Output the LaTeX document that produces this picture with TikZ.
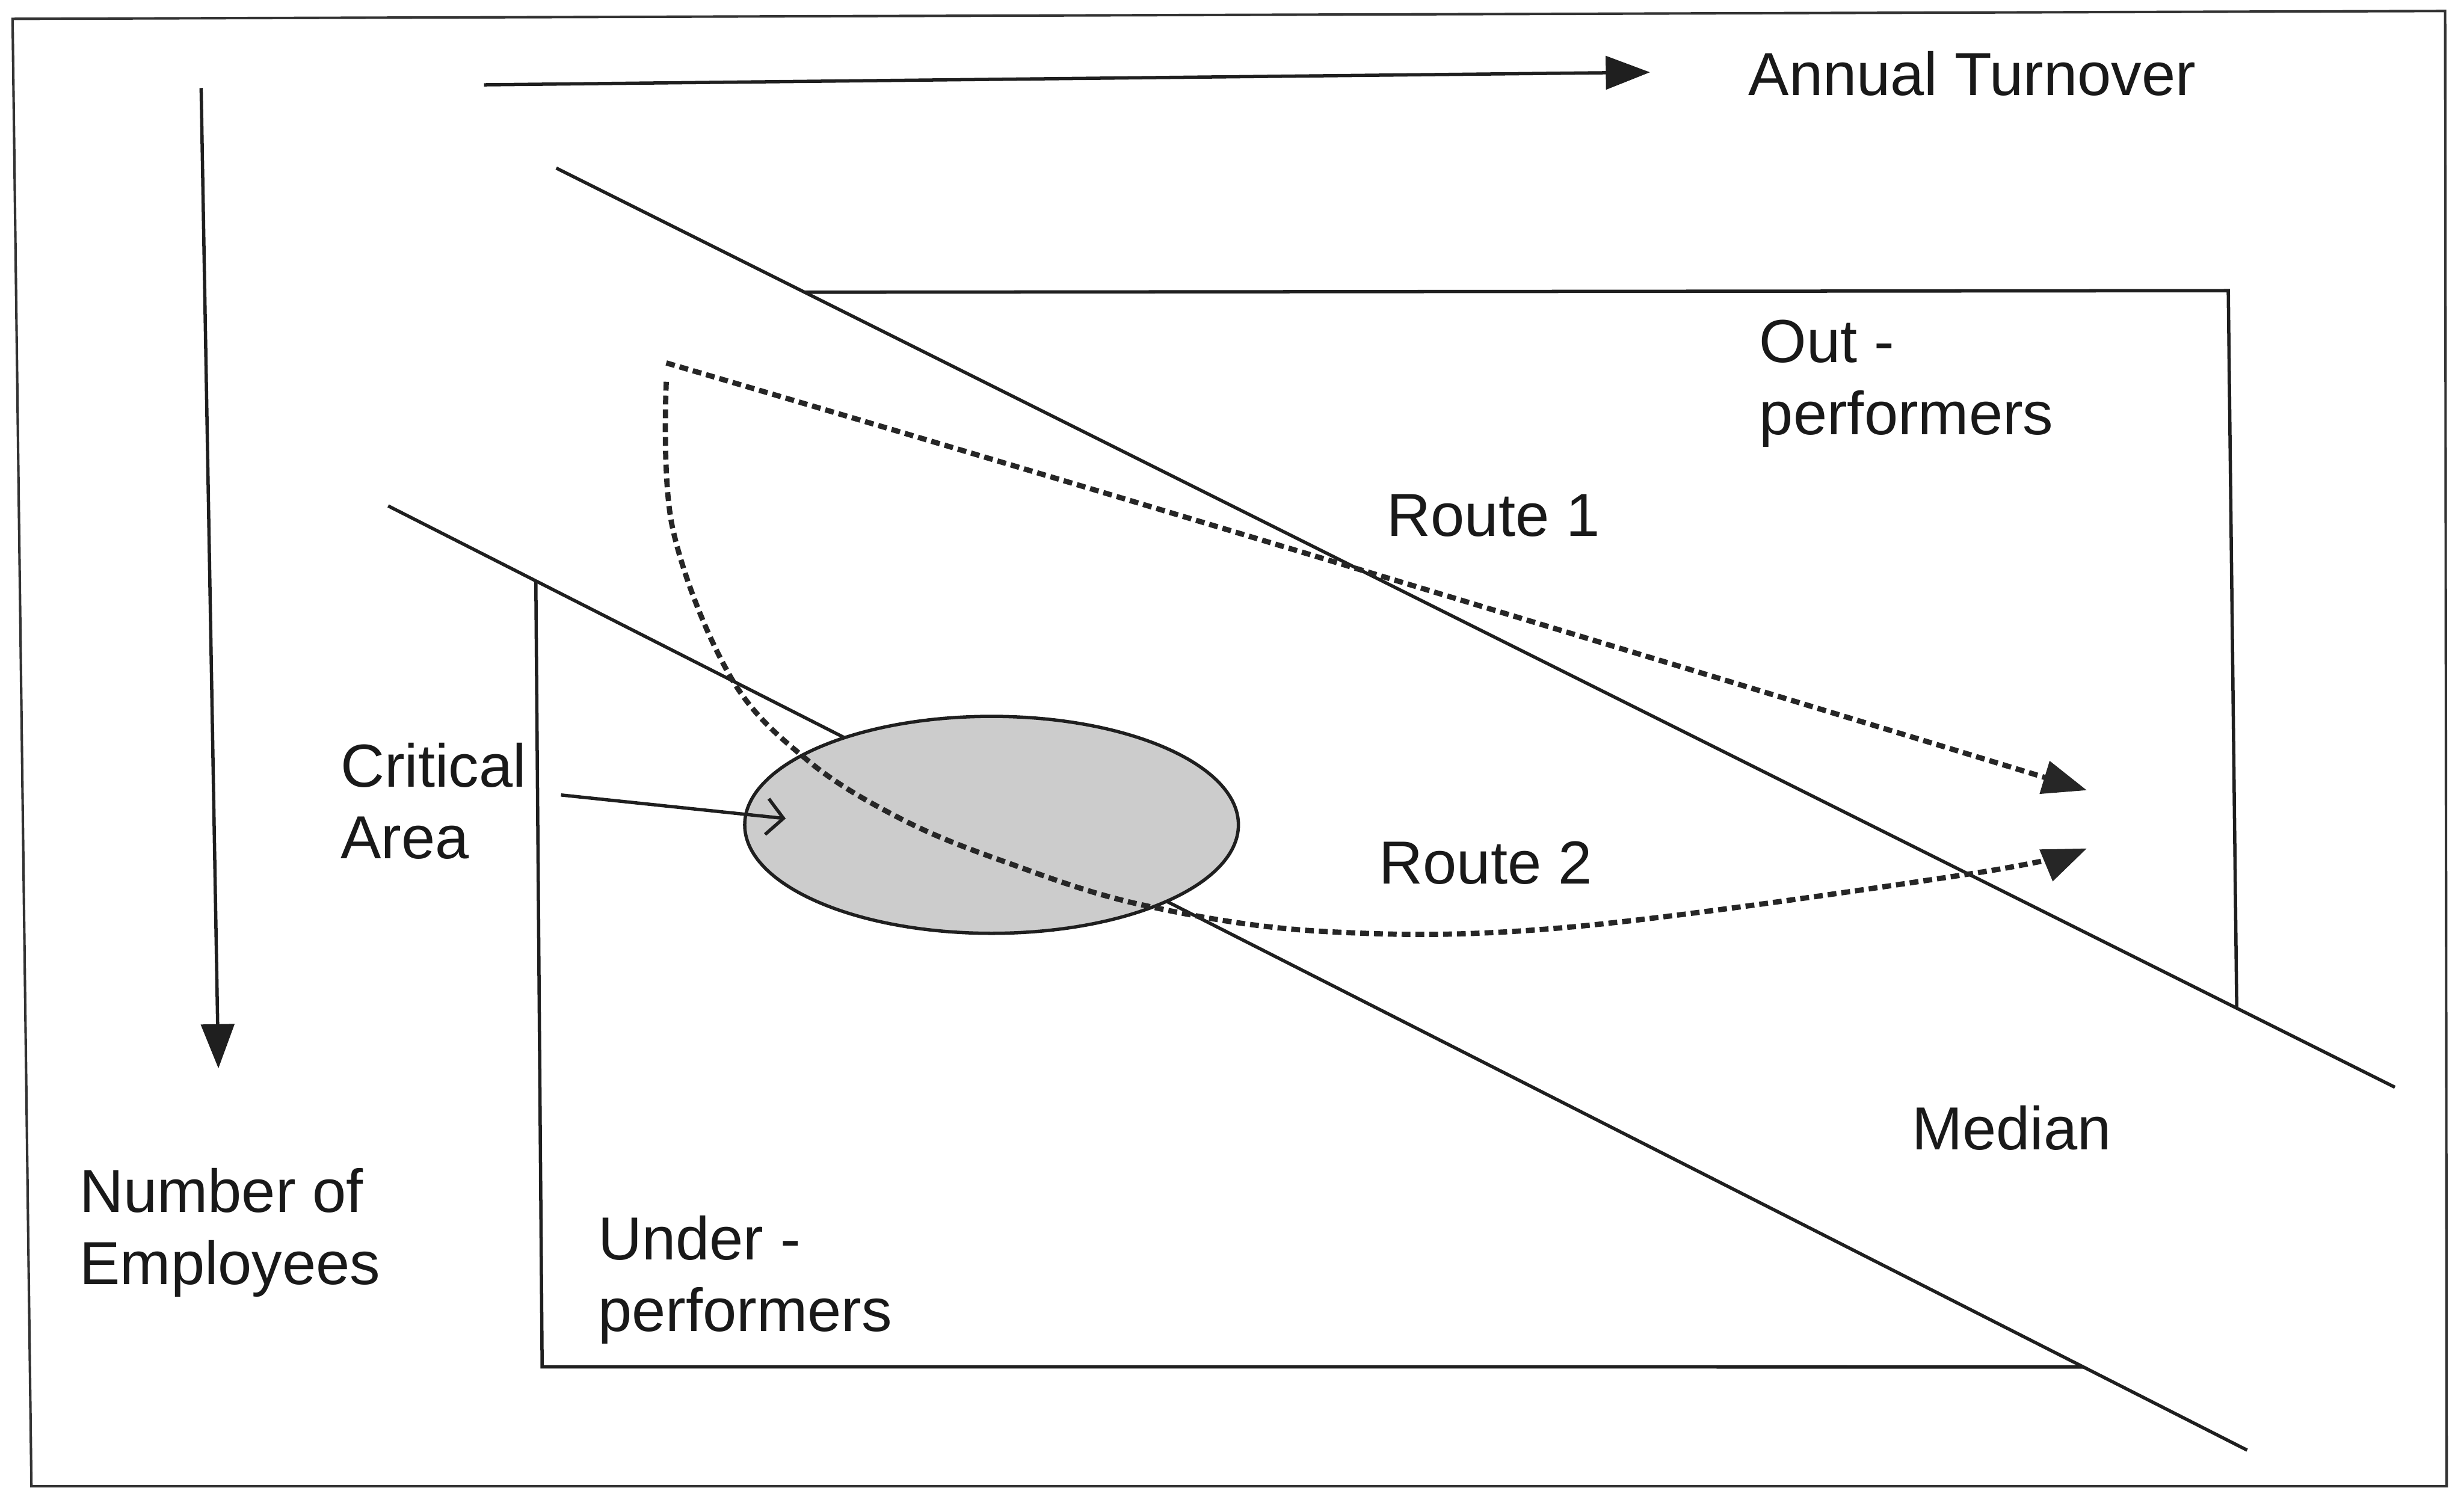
\documentclass[tikz,border=0pt]{standalone}
\usepackage{fontspec}
\setmainfont{Liberation Sans}
\usetikzlibrary{arrows.meta,shapes.geometric}
\begin{document}
\begin{tikzpicture}[x=0.01cm,y=-0.01cm,
  ink/.style={draw=black!88, line width=0.6pt},
  frameline/.style={draw=black!80, line width=0.45pt},
  route/.style={draw=black!85, line width=0.95pt, dash pattern=on 1.6pt off 0.9pt},
  solidhead/.style={-{Triangle[length=8pt,width=6pt]}},
  barbhead/.style={-{Straight Barb[length=3pt,width=6.5pt]}},
  lbl/.style={anchor=north west, inner sep=0pt, align=left,
              font=\fontsize{11}{13}\selectfont, text=black!90},
]
\useasboundingbox (0,0) rectangle (1568,949);
\fill[white] (0,0) rectangle (1568,949);

% page frame
\draw[frameline] (8,12) -- (1556,7) -- (1557,946) -- (20,946) -- cycle;

% axis arrows
\coordinate (tx0) at (308,54);
\coordinate (tx1) at (1050,46);
\coordinate (ty0) at (128,56);
\coordinate (ty1) at (139,680);
\draw[ink, solidhead] (tx0) -- (tx1);
\draw[ink, solidhead] (ty0) -- (ty1);

% the two median boundaries
\coordinate (m0) at (354,107);
\coordinate (m1) at (1524,692);
\coordinate (l0) at (247,322);
\coordinate (l1) at (1430,923);
\draw[ink] (m0) -- (m1);
\draw[ink] (l0) -- (l1);

% out-performers box (open towards the upper boundary)
\coordinate (oa) at (intersection of m0--m1 and 0,186--1000,186);
\coordinate (ob) at (1418,185);
\coordinate (oc) at (intersection of m0--m1 and 1418,185--1424,700);
\draw[ink] (oa) -- (ob) -- (oc);

% under-performers box (open towards the lower boundary)
\coordinate (ua) at (intersection of l0--l1 and 338,0--345,870);
\coordinate (ub) at (345,870);
\coordinate (uc) at (intersection of l0--l1 and 345,870--1400,870);
\draw[ink] (ua) -- (ub) -- (uc);

% critical area
\node[ellipse, draw=black!88, line width=0.6pt, fill=black!20,
      minimum width=3.14cm, minimum height=1.38cm, inner sep=0pt]
      (crit) at (631,525) {};

% routes
\coordinate (rs1) at (424,231);
\coordinate (re1) at (1328,503);
\coordinate (rs2) at (424,243);
\coordinate (re2) at (1328,540);
\draw[route, solidhead] (rs1) .. controls (700,312) and (1000,403) .. (re1);
\draw[route, solidhead] plot[smooth, tension=0.6] coordinates
  {(rs2) (428,336) (465,431) (514,484) (573,521) (638,548) (727,576)
   (845,593) (1000,590) (1255,556) (re2)};

% labels
\node[lbl] (turnover) at (1112,32) {Annual Turnover};
\node[lbl] (outperf)  at (1119,203) {Out -\\performers};
\node[lbl] (route1)   at (882,314) {Route 1};
\node[lbl] (critlbl)  at (216,472) {Critical\\Area};
\node[lbl] (route2)   at (877,535) {Route 2};
\node[lbl] (median)   at (1216,703) {Median};
\node[lbl] (employees) at (50,743) {Number of\\Employees};
\node[lbl] (underperf) at (380,773) {Under -\\performers};

% pointer into the critical area
\coordinate (cp0) at (357,506);
\coordinate (cp1) at (500,521);
\draw[ink, barbhead] (cp0) -- (cp1);
\end{tikzpicture}
\end{document}
